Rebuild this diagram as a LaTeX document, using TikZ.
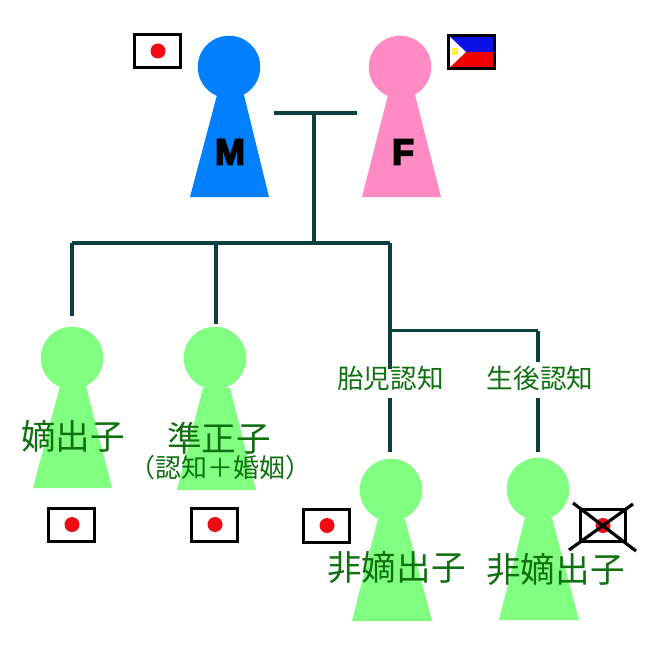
\documentclass[tikz,border=0pt]{standalone}
\usepackage{fontspec}
\newfontfamily\cjk{Noto Sans CJK JP}
\newfontfamily\blk[FakeBold=5]{Liberation Sans Bold}
\definecolor{linecol}{HTML}{0B4040}
\definecolor{txtcol}{HTML}{107010}
\definecolor{mblue}{HTML}{0080FF}
\definecolor{fpink}{HTML}{FF8AC4}
\definecolor{kgreen}{HTML}{80FF80}
\definecolor{jred}{HTML}{F00A14}
\definecolor{pblue}{HTML}{0A10E6}
\definecolor{pyellow}{HTML}{FFF23C}
\tikzset{
  head/.style={circle,inner sep=0pt,minimum size=62.5pt,fill=#1},
  conn/.style={draw=linecol,line width=3.4pt,line join=round},
  flagbox/.style={rectangle,draw=black,line width=3.4pt,fill=white,inner sep=0pt,minimum width=45.5pt,minimum height=32.5pt},
  sun/.style={circle,fill=jred,inner sep=0pt,minimum size=15pt},
  big/.style={inner sep=0pt,text=txtcol,font=\cjk\fontsize{34.6}{34.6}\selectfont},
  mid/.style={inner sep=0pt,text=txtcol,font=\cjk\fontsize{26}{26}\selectfont},
  small/.style={inner sep=0pt,text=txtcol,minimum height=36pt,font=\cjk\fontsize{26.6}{26.6}\selectfont},
  letter/.style={inner sep=0pt,text=black,font=\blk\fontsize{36}{36}\selectfont},
  cross/.style={draw=black,line width=3.2pt}
}
\begin{document}
\begin{tikzpicture}[x=1pt,y=-1pt]
\useasboundingbox (0,0) rectangle (650,650);
% pawns
\fill[mblue] (217,95) -- (244,95) -- (269,197) -- (190,197) -- cycle;
\node[head=mblue] (m) at (229,67) {};
\fill[fpink] (388,95) -- (415,95) -- (441,197) -- (362,197) -- cycle;
\node[head=fpink] (f) at (400,67) {};
\fill[kgreen] (60,386) -- (86,386) -- (112,488) -- (33,488) -- cycle;
\node[head=kgreen] (c1) at (72,358) {};
\fill[kgreen] (203,388) -- (230,388) -- (256,490) -- (177,490) -- cycle;
\node[head=kgreen] (c2) at (215,358) {};
\fill[kgreen] (378,519) -- (405,519) -- (432,621) -- (352,621) -- cycle;
\node[head=kgreen] (c3) at (391,490) {};
\fill[kgreen] (525,518) -- (552,518) -- (579,620) -- (499,620) -- cycle;
\node[head=kgreen] (c4) at (538,489) {};
% letters
\node[letter] (lm) at (230,152) {M};
\node[letter] (lf) at (403,152) {F};
% flags
\node[flagbox] (fm) at (157.5,51) {};
\node[sun] (fms) at (158,51) {};
\node[flagbox] (f1) at (71.5,525) {};
\node[sun] (f1s) at (72,524.5) {};
\node[flagbox] (f2) at (214.5,525) {};
\node[sun] (f2s) at (215,524.5) {};
\node[flagbox] (f3) at (326.5,526) {};
\node[sun] (f3s) at (327,525.5) {};
\node[flagbox] (f4) at (603,525.5) {};
\node[sun] (f4s) at (603,525.5) {};
\draw[cross] (573,503) -- (636,551);
\draw[cross] (633,504) -- (569,550);
% Philippine flag
\fill[pblue] (448,35) rectangle (495,52);
\fill[red!95!black] (448,52) rectangle (495,69);
\fill[white] (448,35) -- (466,52) -- (448,69) -- cycle;
\fill[pyellow] (452,48) rectangle (458,55);
\node[flagbox,fill=none,minimum width=46.5pt,minimum height=33pt] (fp) at (471.5,52) {};
% labels
\node[big] (t1) at (73,436) {嫡出子};
\node[big] (t2) at (219,438) {準正子};
\node[mid] (t2b) at (220,468) {（認知＋婚姻）};
\node[big] (t3) at (396.5,568) {非嫡出子};
\node[big] (t4) at (555.5,570) {非嫡出子};
\node[small] (l1) at (390.5,380) {\raisebox{4.5pt}{胎児認知}};
\node[small] (l2) at (540,380) {\raisebox{4.5pt}{生後認知}};
% connectors
\coordinate (barL) at (274,113);
\coordinate (barR) at (357,113);
\coordinate (barM) at (314,113);
\coordinate (sibs) at (314,243);
\coordinate (sibL) at (72,243);
\coordinate (sibC) at (216,243);
\coordinate (sibR) at (390,243);
\coordinate (brA) at (390,330.5);
\coordinate (brB) at (538,330.5);
\draw[conn] (barL) -- (barR);
\draw[conn] (barM) -- (sibs);
\draw[conn] (sibL) -- (sibR);
\draw[conn,shorten >=11pt] (sibL) -- (sibL |- c1.north);
\draw[conn,shorten >=3pt] (sibC) -- (sibC |- c2.north);
\draw[conn,shorten >=-7pt] (sibR) -- (sibR |- l1.north);
\draw[conn] (brA) -- (brB);
\draw[conn] (brB) -- (brB |- l2.north);
\draw[conn,shorten >=7pt] (sibR |- l1.south) -- (sibR |- c3.north);
\draw[conn,shorten >=6pt] (brB |- l2.south) -- (brB |- c4.north);
\end{tikzpicture}
\end{document}
